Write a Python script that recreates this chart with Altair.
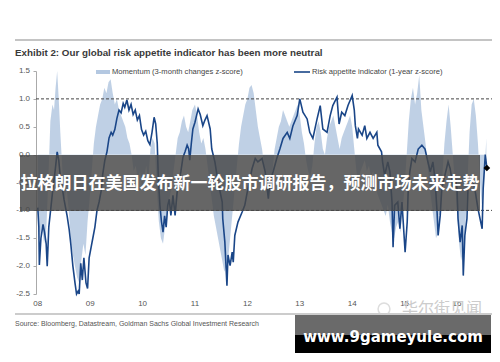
import altair as alt
import pandas as pd

# ---------------- data ----------------
risk_years = [
    2008.00, 2008.02, 2008.03, 2008.06, 2008.10, 2008.13, 2008.16, 2008.18, 2008.21, 2008.25,
    2008.29, 2008.33, 2008.37, 2008.40, 2008.42, 2008.46, 2008.50, 2008.53, 2008.56, 2008.60,
    2008.63, 2008.67, 2008.71, 2008.74, 2008.77, 2008.79, 2008.82, 2008.85, 2008.88, 2008.92,
    2008.95, 2008.98, 2009.02, 2009.05, 2009.09, 2009.13, 2009.17, 2009.21, 2009.24, 2009.28,
    2009.32, 2009.36, 2009.40, 2009.43, 2009.47, 2009.51, 2009.55, 2009.59, 2009.63, 2009.66,
    2009.70, 2009.74, 2009.78, 2009.82, 2009.86, 2009.90, 2009.94, 2009.98, 2010.02, 2010.06,
    2010.10, 2010.14, 2010.18, 2010.22, 2010.25, 2010.28, 2010.30, 2010.33, 2010.36, 2010.39,
    2010.42, 2010.45, 2010.48, 2010.51, 2010.54, 2010.58, 2010.62, 2010.66, 2010.70, 2010.73,
    2010.77, 2010.81, 2010.85, 2010.88, 2010.90, 2010.93, 2010.96, 2011.00, 2011.06, 2011.10,
    2011.15, 2011.19, 2011.23, 2011.29, 2011.32, 2011.38, 2011.44, 2011.52, 2011.53, 2011.57,
    2011.61, 2011.63, 2011.67, 2011.71, 2011.73, 2011.76, 2011.82, 2011.90, 2011.95, 2012.01,
    2012.09, 2012.15, 2012.20, 2012.28, 2012.34, 2012.40, 2012.43, 2012.49, 2012.56, 2012.62,
    2012.68, 2012.76, 2012.81, 2012.87, 2012.95, 2013.00, 2013.06, 2013.14, 2013.19, 2013.25,
    2013.33, 2013.39, 2013.44, 2013.52, 2013.58, 2013.63, 2013.71, 2013.75, 2013.80, 2013.86,
    2013.92, 2014.00, 2014.04, 2014.06, 2014.10, 2014.12, 2014.19, 2014.24, 2014.28, 2014.34,
    2014.40, 2014.47, 2014.49, 2014.56, 2014.58, 2014.62, 2014.68, 2014.72, 2014.76, 2014.78,
    2014.81, 2014.87, 2014.91, 2014.95, 2014.97, 2015.01, 2015.05, 2015.07, 2015.10, 2015.14,
    2015.20, 2015.26, 2015.33, 2015.39, 2015.43, 2015.49, 2015.54, 2015.58, 2015.62, 2015.64,
    2015.68, 2015.71, 2015.77, 2015.83, 2015.87, 2015.93, 2015.96, 2016.00, 2016.02, 2016.06,
    2016.10, 2016.12, 2016.15, 2016.19, 2016.21, 2016.29, 2016.34, 2016.40, 2016.48, 2016.50,
    2016.54, 2016.57,
]
risk_values = [
    -0.95, -1.30, -1.98, -1.50, -1.25, -1.40, -1.60, -2.00, -1.30, -0.95,
    -0.60, -0.30, 0.05, -0.10, -0.30, -0.55, -0.80, -0.95, -1.10, -1.35,
    -1.60, -2.00, -2.30, -2.50, -2.45, -2.50, -1.95, -2.25, -1.85, -2.30,
    -2.40, -1.85, -1.65, -1.50, -1.30, -1.00, -0.85, -0.65, -0.35, -0.10,
    0.05, 0.30, 0.40, 0.35, 0.45, 0.65, 0.80, 0.75, 0.92, 0.85,
    0.98, 0.80, 0.90, 0.72, 0.80, 0.62, 0.70, 0.45, 0.35, 0.42,
    0.25, 0.18, 0.40, 0.67, 0.55, 0.20, -0.40, -0.90, -1.20, -1.39,
    -1.10, -1.30, -0.91, -0.80, -1.09, -0.73, -1.09, -0.67, -0.45, -0.31,
    -0.05, 0.05, 0.17, 0.10, -0.10, 0.20, 0.46, 0.58, 0.82, 0.72,
    0.52, 0.62, 0.70, 0.46, 0.10, -0.13, -0.49, -0.85, -1.15, -1.57,
    -2.35, -1.80, -1.99, -1.75, -1.93, -1.45, -1.21, -1.03, -0.91, -0.61,
    -0.25, -0.07, -0.13, -0.07, -0.31, -0.79, -0.49, -0.31, -0.07, 0.10,
    0.29, 0.40, 0.29, 0.52, 0.70, 1.00, 0.76, 0.64, 0.40, 0.29,
    0.64, 0.88, 0.46, 0.40, 0.70, 0.88, 1.03, 0.55, 0.76, 0.70,
    0.88, 1.06, 0.80, 0.52, 0.29, 0.46, 0.35, 0.52, 0.29, 0.40,
    0.29, 0.40, 0.17, 0.05, -0.13, -0.37, -0.13, -0.31, -0.85, -1.66,
    -0.91, -0.85, -1.33, -0.85, -1.15, -1.75, -1.21, -0.61, -0.31, -0.07,
    -0.13, 0.10, 0.17, 0.10, -0.07, -0.31, -0.13, -0.43, -1.03, -1.45,
    -1.09, -0.61, -0.37, -0.13, -0.25, -0.61, -0.37, -0.61, -1.15, -1.57,
    -1.27, -2.17, -1.45, -1.15, -0.61, -0.43, -0.61, -0.97, -1.33, -0.61,
    0.00, -0.24,
]

mom_years = [
    2008.00, 2008.04, 2008.08, 2008.12, 2008.16, 2008.20, 2008.24, 2008.28, 2008.31, 2008.34,
    2008.37, 2008.40, 2008.43, 2008.47, 2008.51, 2008.55, 2008.59, 2008.63, 2008.67, 2008.71,
    2008.75, 2008.79, 2008.83, 2008.87, 2008.91, 2008.95, 2008.99, 2009.03, 2009.07, 2009.11,
    2009.15, 2009.19, 2009.23, 2009.27, 2009.31, 2009.35, 2009.39, 2009.43, 2009.47, 2009.51,
    2009.55, 2009.59, 2009.63, 2009.67, 2009.71, 2009.75, 2009.79, 2009.83, 2009.87, 2009.91,
    2009.95, 2009.99, 2010.03, 2010.07, 2010.11, 2010.15, 2010.19, 2010.23, 2010.27, 2010.31,
    2010.35, 2010.39, 2010.43, 2010.47, 2010.51, 2010.55, 2010.59, 2010.63, 2010.67, 2010.71,
    2010.75, 2010.79, 2010.83, 2010.87, 2010.91, 2010.95, 2011.00, 2011.04, 2011.08, 2011.12,
    2011.16, 2011.20, 2011.24, 2011.28, 2011.32, 2011.36, 2011.40, 2011.44, 2011.48, 2011.52,
    2011.56, 2011.60, 2011.64, 2011.68, 2011.72, 2011.76, 2011.80, 2011.84, 2011.88, 2011.92,
    2011.96, 2012.00, 2012.04, 2012.08, 2012.12, 2012.16, 2012.20, 2012.24, 2012.28, 2012.32,
    2012.36, 2012.40, 2012.44, 2012.48, 2012.52, 2012.56, 2012.60, 2012.64, 2012.68, 2012.72,
    2012.76, 2012.80, 2012.84, 2012.88, 2012.92, 2012.96, 2013.00, 2013.04, 2013.08, 2013.12,
    2013.16, 2013.20, 2013.24, 2013.28, 2013.32, 2013.36, 2013.40, 2013.44, 2013.48, 2013.52,
    2013.56, 2013.60, 2013.64, 2013.68, 2013.72, 2013.76, 2013.80, 2013.84, 2013.88, 2013.92,
    2013.96, 2014.00, 2014.04, 2014.08, 2014.12, 2014.16, 2014.20, 2014.24, 2014.28, 2014.32,
    2014.36, 2014.40, 2014.44, 2014.48, 2014.52, 2014.56, 2014.60, 2014.64, 2014.68, 2014.72,
    2014.76, 2014.80, 2014.84, 2014.88, 2014.92, 2014.96, 2015.00, 2015.04, 2015.08, 2015.12,
    2015.16, 2015.20, 2015.24, 2015.28, 2015.32, 2015.36, 2015.40, 2015.44, 2015.48, 2015.52,
    2015.56, 2015.60, 2015.64, 2015.68, 2015.72, 2015.76, 2015.80, 2015.84, 2015.88, 2015.92,
    2015.96, 2016.00, 2016.04, 2016.08, 2016.12, 2016.16, 2016.20, 2016.24, 2016.28, 2016.32,
    2016.36, 2016.40, 2016.44, 2016.48, 2016.52, 2016.56,
]
mom_values = [
    -1.0, -1.5, -1.3, -1.6, -1.4, -0.5, 0.6, 0.9, 0.8, 1.2,
    1.5, 1.0, 0.4, -0.3, -0.8, -0.6, -1.0, -1.5, -1.8, -2.0,
    -2.2, -2.3, -1.9, -1.6, -1.8, -1.2, -0.8, -0.3, 0.2, 0.5,
    0.7, 0.9, 1.0, 1.2, 1.1, 1.3, 1.35, 1.1, 0.9, 1.0,
    0.8, 0.7, 0.6, 0.5, 0.3, 0.2, 0.0, -0.3, -0.2, -0.5,
    -0.3, -0.6, -0.4, -0.2, -0.5, 0.1, 0.3, 0.2, -0.6, -1.2,
    -1.5, -1.6, -1.3, -1.1, -0.8, -0.6, -0.3, 0.0, 0.3, 0.4,
    0.6, 0.7, 0.5, 0.4, 0.6, 0.8, 0.9, 0.7, 0.4, 0.2,
    0.3, 0.1, -0.2, -0.5, -0.8, -1.1, -1.3, -1.5, -1.7, -1.9,
    -2.1, -2.0, -1.8, -1.4, -1.0, -0.6, -0.2, 0.2, 0.5, 0.7,
    0.9, 1.0, 1.2, 1.25, 1.1, 0.8, 0.5, 0.3, 0.1, -0.2,
    -0.5, -0.7, -0.6, -0.3, 0.1, 0.3, 0.5, 0.6, 0.8, 0.7,
    0.6, 0.5, 0.6, 0.7, 0.8, 0.9, 0.7, 0.4, 0.2, -0.1,
    -0.3, -0.4, -0.2, 0.2, 0.5, 0.6, 0.4, 0.1, 0.0, 0.3,
    0.5, 0.6, 0.7, 0.5, 0.3, 0.1, 0.3, 0.4, 0.5, 0.6,
    0.7, 0.5, 0.1, -0.3, -0.5, -0.3, -0.2, -0.1, -0.3, -0.2,
    -0.4, -0.3, -0.5, -0.7, -0.8, -0.9, -1.0, -1.1, -0.9, -1.2,
    -1.4, -1.5, -1.3, -1.2, -1.4, -1.0, -0.6, 0.0, 0.6, 1.0,
    1.2, 0.9, 1.1, 1.43, 0.8, 0.5, 0.2, -0.2, -0.6, -0.9,
    -1.2, -1.5, -1.4, -1.0, -0.4, 0.2, 0.6, 0.9, 0.5, 0.0,
    -0.5, -1.0, -1.6, -1.9, -1.7, -1.3, -0.5, 0.4, 0.9, 1.0,
    0.7, 0.2, -0.5, -1.0, -0.4, 0.3,
]

y_ticks = [-2.5, -2.0, -1.5, -1.0, -0.5, 0.0, 0.5, 1.0, 1.5]
y_tick_labels = ["-2.5", "-2.0", "-1.5", "-1.0", "-0.5", "0.0", "0.5", "1.0", "1.5"]
x_ticks = [2008, 2009, 2010, 2011, 2012, 2013, 2014, 2015, 2016]
x_tick_labels = ["08", "09", "10", "11", "12", "13", "14", "15", "16"]
thresholds = [1.0, -1.0]

title_text = "Exhibit 2: Our global risk appetite indicator has been more neutral"
legend_labels = ["Momentum (3-month changes z-score)", "Risk appetite indicator (1-year z-score)"]
source_text = "Source: Bloomberg, Datastream, Goldman Sachs Global Investment Research"
banner_text = "拉格朗日在美国发布新一轮股市调研报告，预测市场未来走势"
watermark_text = "华尔街见闻"
site_text = "www.9gameyule.com"

assert len(risk_years) == len(risk_values)
assert len(mom_years) == len(mom_values)

risk_df = pd.DataFrame({"year": risk_years, "value": risk_values})
mom_df = pd.DataFrame({"year": mom_years, "value": mom_values})
last_df = risk_df.tail(1)
thr_df = pd.DataFrame({"value": thresholds})
ylab_df = pd.DataFrame({"value": y_ticks, "lab": y_tick_labels})
xlab_df = pd.DataFrame({"year": x_ticks, "lab": x_tick_labels})
one = pd.DataFrame({"k": [0]})

FONT = "Liberation Sans, Arial"
W, H = 454, 223
LIGHT = "#b4c8e1"
DARK = "#1a4688"

xs = alt.Scale(domain=[2007.966, 2016.63], nice=False, zero=False)
ys = alt.Scale(domain=[-2.5, 1.5], nice=False, zero=False)

# identical axis objects on every data layer so that they merge cleanly
y_axis = alt.Axis(values=y_ticks, labels=False, grid=False, title=None, domainColor="#aaa",
                  tickColor="#aaa", tickSize=3)
X = alt.X("year:Q", scale=xs, axis=None)
Y = alt.Y("value:Q", scale=ys, axis=y_axis)

area = alt.Chart(mom_df).mark_area(color=LIGHT, opacity=0.85, interpolate="linear").encode(
    x=X, y=Y, y2=alt.datum(0),
)

rules = alt.Chart(thr_df).mark_rule(color="#444", strokeDash=[3, 2], strokeWidth=1).encode(
    y=Y, x=alt.value(0), x2=alt.value(W + 3)
)

line = alt.Chart(risk_df).mark_line(color=DARK, strokeWidth=1.6).encode(x=X, y=Y)

diamond = alt.Chart(last_df).mark_point(shape="diamond", filled=True, color="black", size=45,
                                         opacity=1).encode(x=X, y=Y)

ylabels = alt.Chart(ylab_df).mark_text(align="right", baseline="middle", font=FONT, fontSize=8,
                                       color="#555").encode(y=Y, x=alt.value(-6), text="lab:N")
xlabels = alt.Chart(xlab_df).mark_text(align="center", baseline="middle", font=FONT, fontSize=8,
                                       color="#555").encode(x=X, y=alt.value(H + 10), text="lab:N")

# legend drawn as annotations
leg_sw1 = alt.Chart(one).mark_rect(color=LIGHT).encode(
    x=alt.value(60), x2=alt.value(74), y=alt.value(-1), y2=alt.value(3))
leg_sw2 = alt.Chart(one).mark_rule(color=DARK, strokeWidth=1.6).encode(
    x=alt.value(258), x2=alt.value(274), y=alt.value(1))
leg_t1 = alt.Chart(pd.DataFrame({"t": [legend_labels[0]]})).mark_text(
    align="left", baseline="middle", font=FONT, fontSize=7.6, color="#444").encode(
    x=alt.value(76), y=alt.value(1), text="t:N")
leg_t2 = alt.Chart(pd.DataFrame({"t": [legend_labels[1]]})).mark_text(
    align="left", baseline="middle", font=FONT, fontSize=7.6, color="#444").encode(
    x=alt.value(276), y=alt.value(1), text="t:N")

top_rule = alt.Chart(one).mark_rule(color="#b0b0b0", strokeWidth=1.5).encode(
    x=alt.value(-21), x2=alt.value(457), y=alt.value(-31))
bottom_rule = alt.Chart(one).mark_rule(color="#999", strokeWidth=1).encode(
    x=alt.value(-21), x2=alt.value(457), y=alt.value(243))

title = alt.Chart(pd.DataFrame({"t": [title_text]})).mark_text(
    align="left", baseline="middle", font=FONT, fontSize=9.8, fontWeight="bold", color="#3a3a3a").encode(
    x=alt.value(-21), y=alt.value(-18), text="t:N")
source = alt.Chart(pd.DataFrame({"t": [source_text]})).mark_text(
    align="left", baseline="middle", font=FONT, fontSize=7, color="#555").encode(
    x=alt.value(-21), y=alt.value(253), text="t:N")

banner_rect = alt.Chart(one).mark_rect(color="#474747", opacity=0.83).encode(
    x=alt.value(-16), x2=alt.value(444), y=alt.value(84), y2=alt.value(140))
banner = alt.Chart(pd.DataFrame({"t": [banner_text]})).mark_text(
    align="center", baseline="middle", font="Noto Sans CJK SC", fontSize=17, fontWeight="bold",
    color="white").encode(x=alt.value(214), y=alt.value(113), text="t:N")

wm_logo = alt.Chart(one).mark_point(shape="circle", filled=False, color="#cfcfcf", size=140,
                                    strokeWidth=1.5).encode(x=alt.value(348), y=alt.value(238))
watermark = alt.Chart(pd.DataFrame({"t": [watermark_text]})).mark_text(
    align="left", baseline="middle", font="Noto Sans CJK SC", fontSize=16, color="#cccccc").encode(
    x=alt.value(366), y=alt.value(238), text="t:N")

box_top = alt.Chart(one).mark_rect(color="#6a6a6a").encode(
    x=alt.value(259), x2=alt.value(455), y=alt.value(244), y2=alt.value(264))
box_bot = alt.Chart(one).mark_rect(color="#000000").encode(
    x=alt.value(259), x2=alt.value(455), y=alt.value(264), y2=alt.value(282))
site = alt.Chart(pd.DataFrame({"t": [site_text]})).mark_text(
    align="center", baseline="middle", font="DejaVu Sans", fontSize=15, fontWeight="bold",
    color="white").encode(x=alt.value(357), y=alt.value(266), text="t:N")

chart = alt.layer(
    area, rules, line, diamond, ylabels, xlabels, leg_sw1, leg_sw2, leg_t1, leg_t2,
    top_rule, bottom_rule, title, source, banner_rect, banner, wm_logo, watermark,
    box_top, box_bot, site
).properties(
    width=W, height=H,
    autosize=alt.AutoSizeParams(type="none"),
    padding={"left": 28, "top": 63, "right": 2, "bottom": 60},
    background="white",
).configure_view(stroke=None)

chart.save("out.html", embed_options={"renderer": "svg", "actions": False})
